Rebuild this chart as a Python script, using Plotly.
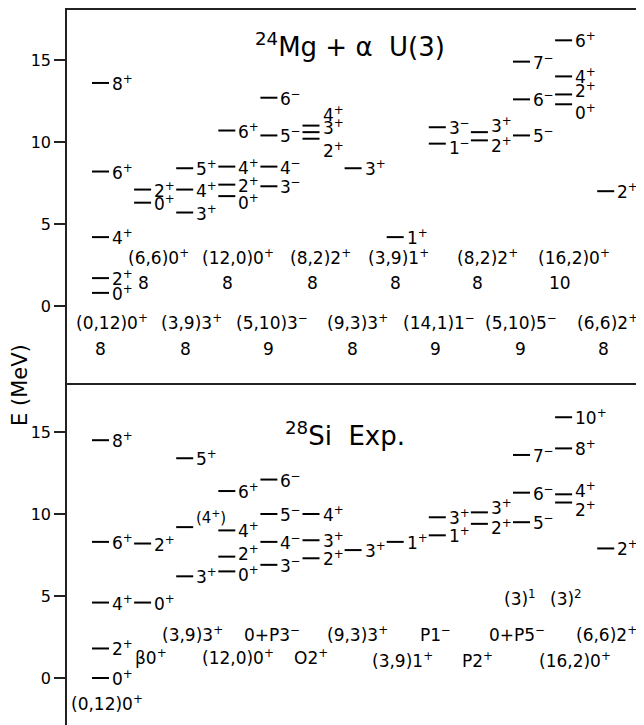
import plotly.graph_objects as go

# ---------------- data ----------------
# Upper panel: 24Mg + alpha U(3) calculation  (column index, energy MeV, spin-parity)
mg_col = [0, 0, 0, 0, 0, 1, 1, 2, 2, 2, 3, 3, 3, 3, 4, 4, 4, 4, 5, 5, 5, 6, 7,
          8, 8, 9, 9, 10, 10, 10, 11, 11, 11, 11, 12]
mg_E = [13.6, 8.2, 4.2, 1.7, 0.8, 7.1, 6.3, 8.4, 7.1, 5.7, 10.7, 8.5, 7.4, 6.7,
        12.7, 10.4, 8.5, 7.3, 11.0, 10.6, 10.2, 8.4, 4.2, 10.9, 9.9, 10.6, 10.1,
        14.9, 12.6, 10.4, 16.2, 14.0, 12.9, 12.3, 7.0]
mg_J = ["8+", "6+", "4+", "2+", "0+", "2+", "0+", "5+", "4+", "3+", "6+", "4+", "2+", "0+",
        "6-", "5-", "4-", "3-", "4+", "3+", "2+", "3+", "1+", "3-", "1-", "3+", "2+",
        "7-", "6-", "5-", "6+", "4+", "2+", "0+", "2+"]

# Lower panel: 28Si experiment
si_col = [0, 0, 0, 0, 0, 1, 1, 2, 2, 2, 3, 3, 3, 3, 4, 4, 4, 4, 5, 5, 5, 6, 7,
          8, 8, 9, 9, 10, 10, 10, 11, 11, 11, 11, 12]
si_E = [14.5, 8.3, 4.6, 1.8, 0.0, 8.2, 4.6, 13.4, 9.2, 6.2, 11.4, 9.0, 7.4, 6.5,
        12.1, 10.0, 8.3, 6.9, 10.0, 8.4, 7.3, 7.8, 8.3, 9.8, 8.7, 10.1, 9.4,
        13.6, 11.3, 9.5, 15.9, 14.0, 11.2, 10.7, 7.9]
si_J = ["8+", "6+", "4+", "2+", "0+", "2+", "0+", "5+", "(4+)", "3+", "6+", "4+", "2+", "0+",
        "6-", "5-", "4-", "3-", "4+", "3+", "2+", "3+", "1+", "3+", "1+", "3+", "2+",
        "7-", "6-", "5-", "10+", "8+", "4+", "2+", "2+"]

# band configuration labels (upper)
mg_conf_row1 = ["(6,6)0<sup>+</sup>", "(12,0)0<sup>+</sup>", "(8,2)2<sup>+</sup>",
                "(3,9)1<sup>+</sup>", "(8,2)2<sup>+</sup>", "(16,2)0<sup>+</sup>"]
mg_N_row1 = ["8", "8", "8", "8", "8", "10"]
mg_conf_row2 = ["(0,12)0<sup>+</sup>", "(3,9)3<sup>+</sup>", "(5,10)3<sup>−</sup>",
                "(9,3)3<sup>+</sup>", "(14,1)1<sup>−</sup>", "(5,10)5<sup>−</sup>",
                "(6,6)2<sup>+</sup>"]
mg_N_row2 = ["8", "8", "9", "8", "9", "9", "8"]

# band labels (lower)
si_conf = ["(3)<sup>1</sup>", "(3)<sup>2</sup>",
           "(3,9)3<sup>+</sup>", "0+P3<sup>−</sup>", "(9,3)3<sup>+</sup>", "P1<sup>−</sup>",
           "0+P5<sup>−</sup>", "(6,6)2<sup>+</sup>",
           "β0<sup>+</sup>", "(12,0)0<sup>+</sup>", "O2<sup>+</sup>",
           "(3,9)1<sup>+</sup>", "P2<sup>+</sup>", "(16,2)0<sup>+</sup>",
           "(0,12)0<sup>+</sup>"]

ytick_vals = [0, 5, 10, 15]

# ---------------- layout constants (positions / styles) ----------------
BODY = 8                    # default page body margin
L = 67                      # plot left edge in window px
WW, WH = 644, 725           # window size
W, H = WW - BODY, WH - BODY
PW = WW - L                 # plot width px -> x data units are pixels
COL0, COLSTEP, DASH = 25, 42.1, 17
FONT = "DejaVu Sans"
FS = 17
INK = "#000"

def col_x(c):
    return COL0 + COLSTEP * c

def fmt(j):
    par = "(" in j
    core = j.strip("()")
    sign = "+" if core.endswith("+") else "−"
    txt = core[:-1] + "<sup>" + sign + "</sup>"
    return "(" + txt + ")" if par else txt

# label vertical nudges for crowded levels (pixels, up positive)
mg_shift = {(5, "4+"): 12, (5, "3+"): 5, (5, "2+"): -11, (3, "0+"): -6, (8, "1-"): -3,
            (9, "3+"): 7, (9, "2+"): -5, (11, "2+"): 4, (11, "0+"): -8}
si_shift = {(2, "(4+)"): 10, (3, "2+"): 4, (3, "0+"): -3, (9, "3+"): 5, (9, "2+"): -3,
            (11, "4+"): 4, (11, "2+"): -6}

# label positions: (x center in window px, energy-ish y)
mg_row1_x = [158, 238, 320, 398, 487, 574]
mg_row1_nx = [143, 227, 312, 395, 477, 560]
mg_row2_x = [112, 191, 272, 357, 439, 521, 607]
mg_row2_nx = [100, 185, 268, 352, 435, 520, 603]
si_conf_pos = [(520, 4.9), (566, 4.9),
               (192, 2.7), (272, 2.7), (357, 2.7), (435, 2.7), (517, 2.7), (606, 2.7),
               (151, 1.3), (238, 1.3), (311, 1.3),
               (402, 1.1), (477, 1.1), (575, 1.1),
               (107, -1.5)]

fig = go.Figure()
annotations = []

def add_levels(cols, Es, Js, shifts, xa, ya):
    xs, ys = [], []
    for c, e, j in zip(cols, Es, Js):
        x0 = col_x(c)
        xs += [x0, x0 + DASH, None]
        ys += [e, e, None]
        annotations.append(dict(x=x0 + DASH + 1, y=e, xref=xa, yref=ya, text=fmt(j),
                                showarrow=False, xanchor="left", yanchor="middle",
                                yshift=shifts.get((c, j), 0),
                                font=dict(family=FONT, size=FS if "(" not in j else 15, color=INK)))
    fig.add_trace(go.Scatter(x=xs, y=ys, mode="lines", xaxis=xa, yaxis=ya,
                             line=dict(color=INK, width=2), hoverinfo="skip", showlegend=False))

add_levels(mg_col, mg_E, mg_J, mg_shift, "x", "y")
add_levels(si_col, si_E, si_J, si_shift, "x2", "y2")

def txt(x, y, t, xa, ya, size=FS):
    annotations.append(dict(x=x, y=y, xref=xa, yref=ya, text=t, showarrow=False,
                            xanchor="center", yanchor="middle",
                            font=dict(family=FONT, size=size, color=INK)))

for t, px in zip(mg_conf_row1, mg_row1_x):
    txt(px - L, 3.0, t, "x", "y")
for t, px in zip(mg_N_row1, mg_row1_nx):
    txt(px - L, 1.4, t, "x", "y")
for t, px in zip(mg_conf_row2, mg_row2_x):
    txt(px - L, -1.0, t, "x", "y")
for t, px in zip(mg_N_row2, mg_row2_nx):
    txt(px - L, -2.6, t, "x", "y")
for t, (px, e) in zip(si_conf, si_conf_pos):
    txt(px - L, e, t, "x2", "y2")

# panel titles
txt(350 - L, 15.9, "<sup>24</sup>Mg + α  U(3)", "x", "y", size=26)
txt(345 - L, 14.9, "<sup>28</sup>Si  Exp.", "x2", "y2", size=26)

# y-axis title
annotations.append(dict(x=-47 / PW, y=(WH - 385) / (WH - 10), xref="paper", yref="paper",
                        text="E (MeV)", showarrow=False, textangle=-90,
                        xanchor="center", yanchor="middle",
                        font=dict(family=FONT, size=21, color=INK)))

# invisible traces for right-side tick axes
fig.add_trace(go.Scatter(x=[None], y=[None], xaxis="x", yaxis="y3", showlegend=False))
fig.add_trace(go.Scatter(x=[None], y=[None], xaxis="x2", yaxis="y4", showlegend=False))

split = (WH - 385) / (WH - 10)
rng_up = [(306 - 385) / 16.4, (306 - 10) / 16.4]
rng_lo = [(678 - 725) / 16.4, (678 - 385) / 16.4]

xcommon = dict(range=[0, PW], showgrid=False, zeroline=False, showticklabels=False,
               ticks="", showline=True, linecolor="#222", linewidth=1.5, side="top",
               domain=[0, 1], fixedrange=True)
ycommon = dict(showgrid=False, zeroline=False, tickvals=ytick_vals, ticks="outside",
               ticklen=11, tickwidth=1.5, tickcolor="#222", showline=True, linecolor="#222",
               linewidth=1.5, tickfont=dict(family=FONT, size=16, color=INK))
yright = dict(showgrid=False, zeroline=False, tickvals=ytick_vals, ticks="inside",
              ticklen=8, tickwidth=1.5, tickcolor="#222", showline=False,
              showticklabels=False, side="right")

fig.update_layout(
    width=W, height=H,
    margin=dict(l=L - BODY, r=0, t=10 - BODY, b=0),
    paper_bgcolor="white", plot_bgcolor="white",
    xaxis=dict(**xcommon, anchor="y"),
    xaxis2=dict(**xcommon, anchor="y2"),
    yaxis=dict(**ycommon, domain=[split, 1], range=rng_up, anchor="x"),
    yaxis2=dict(**ycommon, domain=[0, split], range=rng_lo, anchor="x2"),
    yaxis3=dict(**yright, overlaying="y", range=rng_up, anchor="x"),
    yaxis4=dict(**yright, overlaying="y2", range=rng_lo, anchor="x2"),
    annotations=annotations,
    showlegend=False,
)

fig.write_html("out.html")
